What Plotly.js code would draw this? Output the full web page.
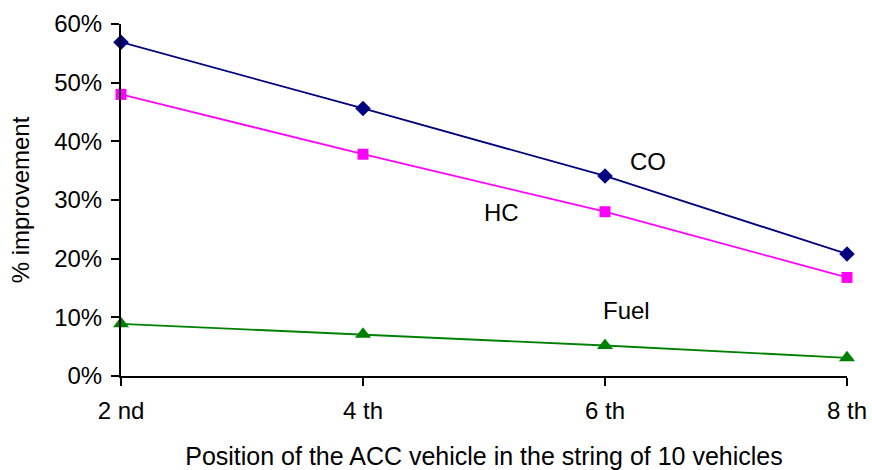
<!DOCTYPE html>
<html>
<head>
<meta charset="utf-8">
<script src="https://cdn.plot.ly/plotly-3.0.1.min.js"></script>
<style>
  body { margin: 0; background: #fff; }
  #chart { width: 872px; height: 470px; }
</style>
</head>
<body>
<div id="chart"></div>
<script>
// positions in the string of 10 vehicles
const positions = ["2 nd", "4 th", "6 th", "8 th"];
const coValues = [0.569, 0.456, 0.341, 0.208];
const hcValues = [0.480, 0.378, 0.280, 0.168];
const fuelValues = [0.089, 0.071, 0.052, 0.031];

const xIdx = positions.map((p, i) => i);

function makeTrace(name, values, color, symbol, size) {
    return {
        x: xIdx,
        y: values,
        name: name,
        mode: 'lines+markers',
        type: 'scatter',
        line: { color: color, width: 1.8 },
        marker: { color: color, symbol: symbol, size: size },
        cliponaxis: false
    };
}

const traces = [
    makeTrace('CO', coValues, '#000080', 'diamond', 12),
    makeTrace('HC', hcValues, '#FF00FF', 'square', 11),
    makeTrace('Fuel', fuelValues, '#008000', 'triangle-up', 14)
];

const font = { family: 'Liberation Sans, Arial, sans-serif', size: 24, color: '#000' };
const titleFont = { family: 'Liberation Sans, Arial, sans-serif', size: 25, color: '#000' };

const layout = {
    width: 872,
    height: 470,
    margin: { l: 121, r: 25, t: 24, b: 94 },
    showlegend: false,
    paper_bgcolor: '#fff',
    plot_bgcolor: '#fff',
    font: font,
    xaxis: {
        range: [0, 3],
        tickvals: xIdx,
        ticktext: positions,
        showgrid: false,
        zeroline: false,
        showline: true,
        linecolor: '#000',
        linewidth: 2,
        ticks: 'outside',
        ticklen: 8,
        tickwidth: 2,
        tickcolor: '#000',
        tickfont: font,
        ticklabelstandoff: 4,
        title: { text: 'Position of the ACC vehicle in the string of 10 vehicles', font: titleFont, standoff: 30 }
    },
    yaxis: {
        range: [0, 0.6],
        tickvals: [0, 0.1, 0.2, 0.3, 0.4, 0.5, 0.6],
        tickformat: '.0%',
        showgrid: false,
        zeroline: false,
        showline: true,
        linecolor: '#000',
        linewidth: 2,
        ticks: 'outside',
        ticklen: 8,
        tickwidth: 2,
        tickcolor: '#000',
        tickfont: font,
        ticklabelstandoff: 4,
        title: { text: '% improvement', font: font, standoff: 18 }
    },
    annotations: [
        { x: 2.178, y: 0.365, text: 'CO', showarrow: false, font: font, xref: 'x', yref: 'y' },
        { x: 1.574, y: 0.278, text: 'HC', showarrow: false, font: font, xref: 'x', yref: 'y' },
        { x: 2.087, y: 0.112, text: 'Fuel', showarrow: false, font: font, xref: 'x', yref: 'y' }
    ]
};

Plotly.newPlot('chart', traces, layout, { displayModeBar: false });
</script>
</body>
</html>
